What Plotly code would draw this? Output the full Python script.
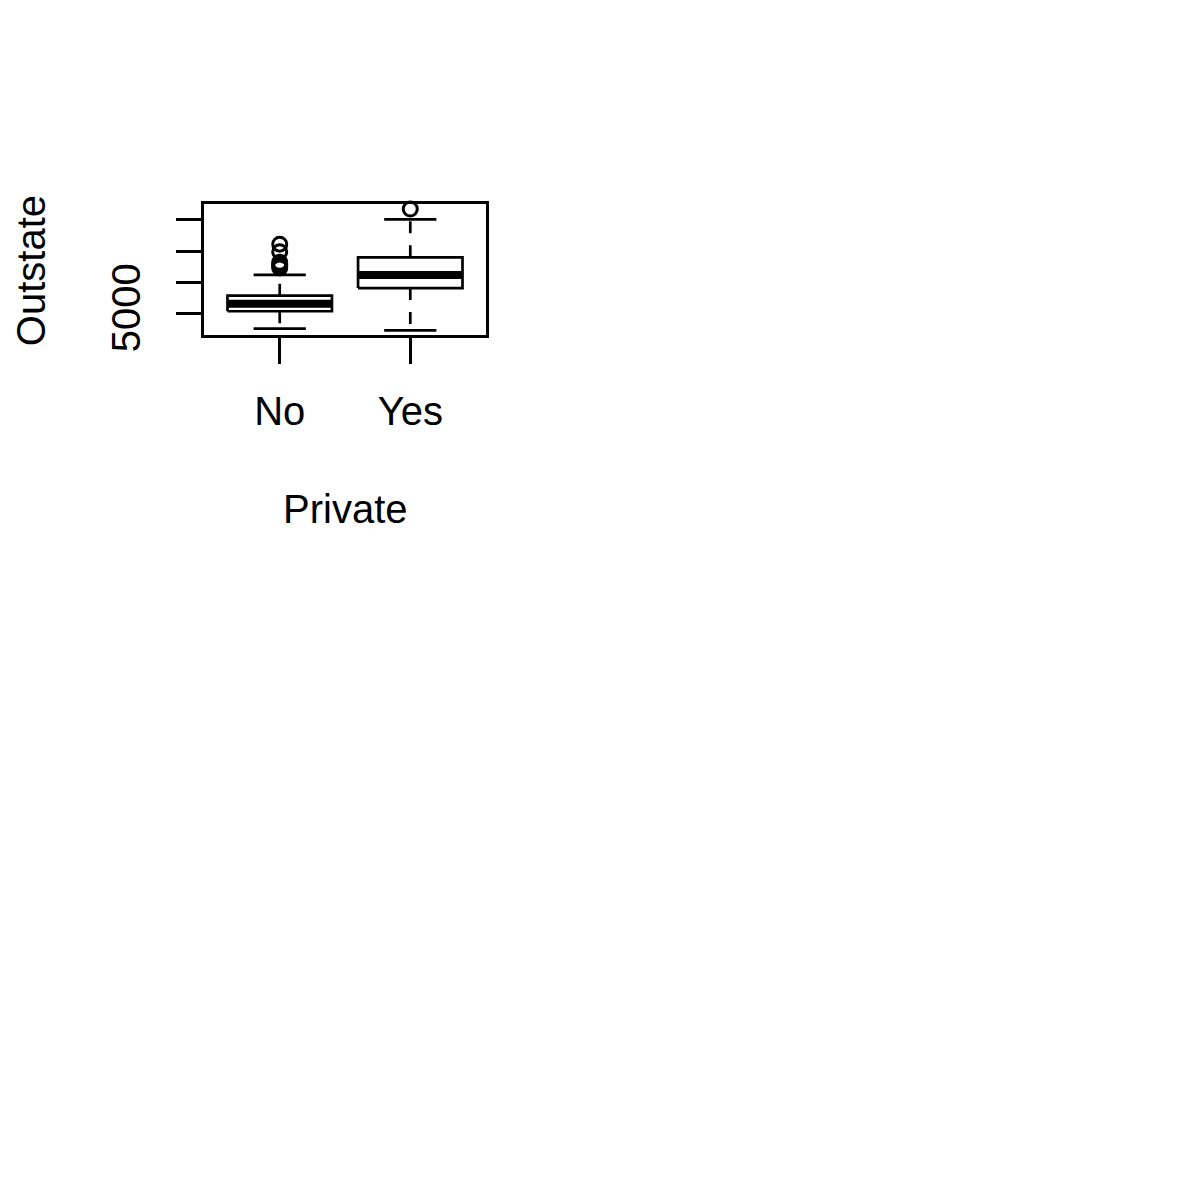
import plotly.graph_objects as go

# ---- data ----
categories = ["No", "Yes"]
cat_pos = [1, 2]
lower_whisker = [2630, 2360]
q1 = [5410, 9100]
median = [6620, 11200]
q3 = [7890, 14000]
upper_whisker = [11200, 20050]
outliers_no = [16100, 14900, 13200, 12900, 12600, 12300]
outliers_yes = [21700]
y_tick_vals = [5000, 10000, 15000, 20000]
y_tick_text = ["5000", "", "", ""]

W = H = 1181
OFF_X = 8
OFF_Y = 4
FONT = "Liberation Sans, Arial, Helvetica, sans-serif"
FS = 40
LW = 2.7
BOXHALF = 0.4
CAPHALF = 0.2


def px(xp):
    return (xp - OFF_X) / W


def py(yp):
    return 1 - (yp - OFF_Y) / H


fig = go.Figure()

for i, xc in enumerate(cat_pos):
    # box
    fig.add_trace(go.Scatter(
        x=[xc - BOXHALF, xc + BOXHALF, xc + BOXHALF, xc - BOXHALF, xc - BOXHALF],
        y=[q1[i], q1[i], q3[i], q3[i], q1[i]],
        mode="lines", line=dict(color="black", width=LW), hoverinfo="skip"))
    # median
    fig.add_trace(go.Scatter(
        x=[xc - BOXHALF, xc + BOXHALF], y=[median[i], median[i]],
        mode="lines", line=dict(color="black", width=8), hoverinfo="skip"))
    # whiskers (dashed)
    fig.add_trace(go.Scatter(
        x=[xc, xc, None, xc, xc],
        y=[q1[i], lower_whisker[i], None, q3[i], upper_whisker[i]],
        mode="lines", line=dict(color="black", width=LW, dash="12px,12px"),
        hoverinfo="skip"))
    # caps
    fig.add_trace(go.Scatter(
        x=[xc - CAPHALF, xc + CAPHALF, None, xc - CAPHALF, xc + CAPHALF],
        y=[lower_whisker[i], lower_whisker[i], None, upper_whisker[i], upper_whisker[i]],
        mode="lines", line=dict(color="black", width=LW), hoverinfo="skip"))

for xc, outs in zip(cat_pos, [outliers_no, outliers_yes]):
    fig.add_trace(go.Scatter(
        x=[xc] * len(outs), y=outs, mode="markers", cliponaxis=False,
        marker=dict(symbol="circle-open", size=14, color="black",
                    line=dict(width=3, color="black")),
        hoverinfo="skip"))

all_vals = lower_whisker + upper_whisker + outliers_no + outliers_yes
ymin, ymax = min(all_vals), max(all_vals)
pad = 0.04 * (ymax - ymin)

x0, x1 = 204, 486
y0, y1 = 203, 336

fig.update_layout(
    width=W, height=H, showlegend=False,
    paper_bgcolor="white", plot_bgcolor="white",
    margin=dict(l=0, r=0, t=0, b=0),
    font=dict(family=FONT, size=FS, color="black"),
    xaxis=dict(domain=[px(x0), px(x1)], range=[0.5 - 0.08, 2.5 + 0.08],
               tickvals=cat_pos, ticktext=categories, ticks="outside",
               ticklen=26, tickwidth=LW, tickcolor="black",
               showline=True, linecolor="black", linewidth=LW, mirror=True,
               showgrid=False, zeroline=False, ticklabelstandoff=13,
               tickfont=dict(size=FS)),
    yaxis=dict(domain=[py(y1), py(y0)], range=[ymin - pad, ymax + pad],
               tickvals=y_tick_vals, ticktext=y_tick_text, ticks="outside",
               ticklen=25, tickwidth=LW, tickcolor="black", tickangle=-90,
               showline=True, linecolor="black", linewidth=LW, mirror=True,
               showgrid=False, zeroline=False, ticklabelstandoff=20,
               tickfont=dict(size=FS)),
    annotations=[
        dict(text="Private", x=px((x0 + x1) / 2), y=py(512),
             xref="paper", yref="paper", xanchor="center", yanchor="middle",
             showarrow=False, font=dict(size=FS)),
        dict(text="Outstate", x=px(31), y=py(271), textangle=-90,
             xref="paper", yref="paper", xanchor="center", yanchor="middle",
             showarrow=False, font=dict(size=FS)),
    ],
)

fig.write_html("out.html")
